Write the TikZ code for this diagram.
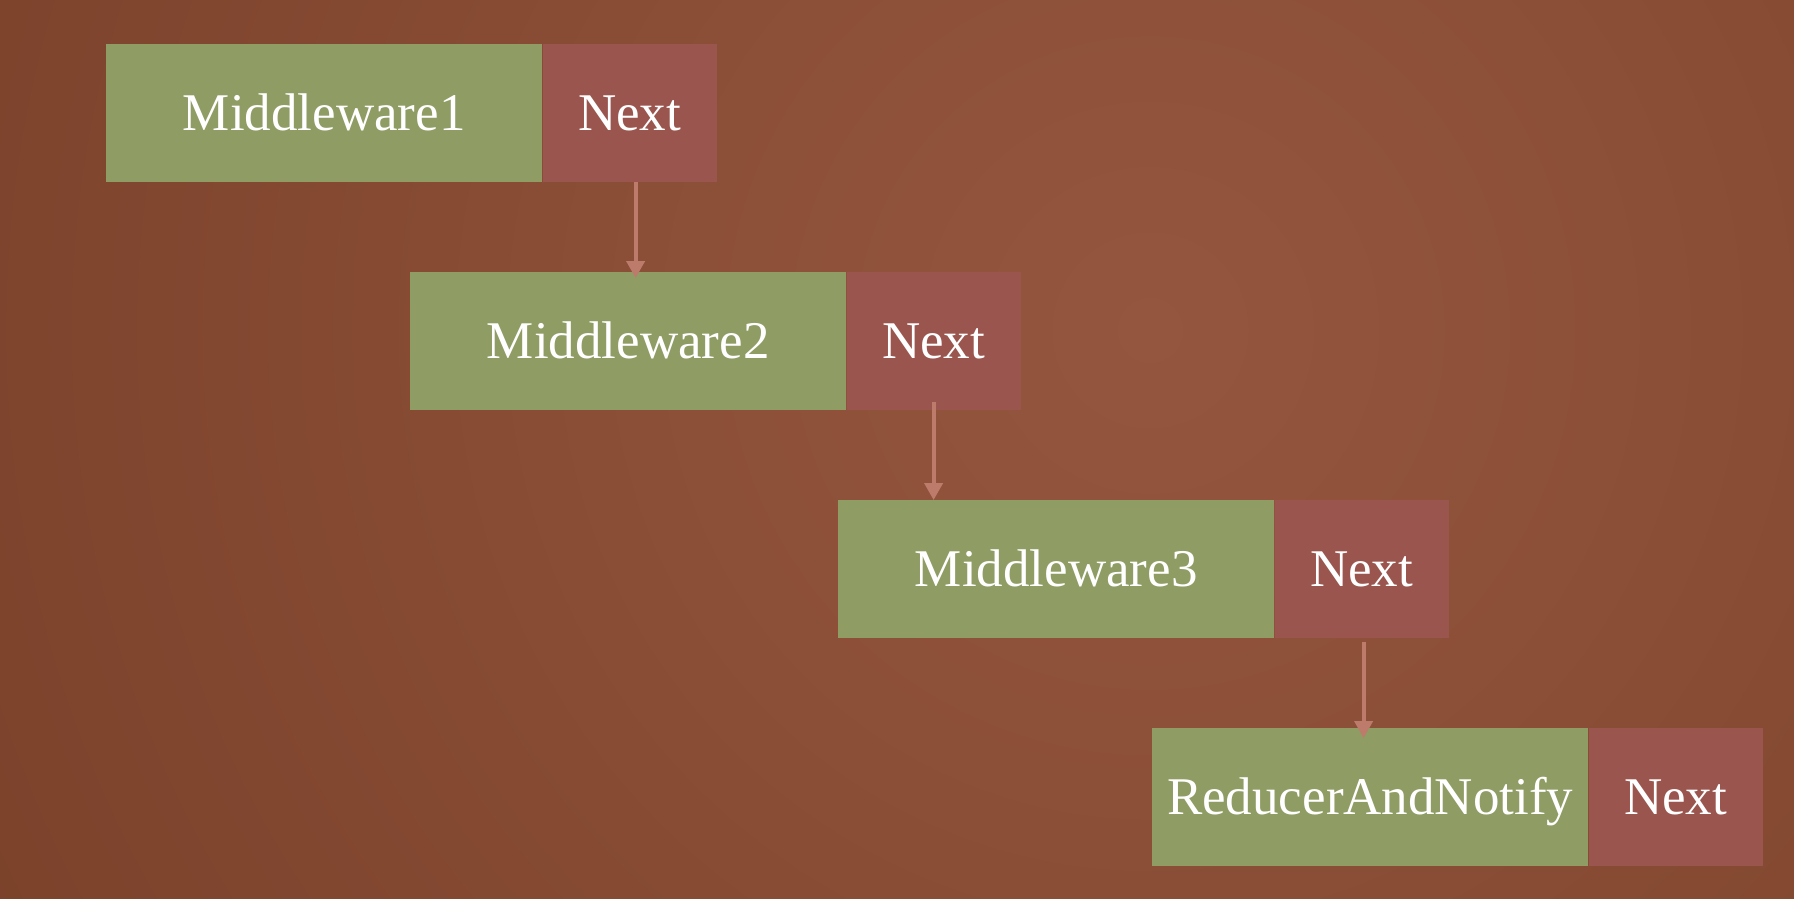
\documentclass[tikz,border=0pt]{standalone}
\usepackage{fontspec}
\setmainfont{Liberation Serif}
\usetikzlibrary{arrows.meta,calc}
\definecolor{bgdark}{HTML}{743C24}
\definecolor{bglight}{HTML}{95563F}
\definecolor{mwgreen}{HTML}{8F9C64}
\definecolor{nextred}{HTML}{9A564E}
\definecolor{arrowcol}{HTML}{BD7B6C}
\tikzset{
  mwbox/.style={fill=mwgreen, draw=none, minimum width=436pt, minimum height=138pt, inner sep=0pt,
    text=white, font=\fontsize{53}{64}\selectfont, text height=35pt, text depth=0pt},
  nextbox/.style={fill=nextred, draw=none, minimum width=174pt, minimum height=138pt, inner sep=0pt,
    text=white, font=\fontsize{53}{64}\selectfont, text height=35pt, text depth=0pt},
  arr/.style={draw=arrowcol, line width=4pt, -{Triangle[width=18pt,length=17pt]}}
}
\begin{document}
\begin{tikzpicture}[x=1pt,y=-1pt]
\useasboundingbox (0,0) rectangle (1794,898);
\fill[bgdark] (0,0) rectangle (1794,898);
\begin{scope}
  \clip (0,0) rectangle (1794,898);
  \shade[inner color=bglight, outer color=bgdark] (1150,330) circle (1700);
\end{scope}

\node[mwbox, anchor=north west] (mw1) at (106,44) {Middleware1};
\node[nextbox, anchor=west] (next1) at (mw1.east) {Next};

\node[mwbox, anchor=north west] (mw2) at (410,272) {Middleware2};
\node[nextbox, anchor=west] (next2) at (mw2.east) {Next};

\node[mwbox, anchor=north west] (mw3) at (838,500) {Middleware3};
\node[nextbox, anchor=west] (next3) at (mw3.east) {Next};

\node[mwbox, anchor=north west] (mw4) at (1152,728) {ReducerAndNotify};
\node[nextbox, anchor=west] (next4) at (mw4.east) {Next};

\draw[arr] ([xshift=6pt]next1.south) -- ([xshift=6pt,yshift=-6pt]next1.south |- mw2.north);
\draw[arr] ([yshift=8pt]next2.south) -- (next2.south |- mw3.north);
\draw[arr] ([xshift=2pt,yshift=-4pt]next3.south) -- ([xshift=2pt,yshift=-10pt]next3.south |- mw4.north);
\end{tikzpicture}
\end{document}
